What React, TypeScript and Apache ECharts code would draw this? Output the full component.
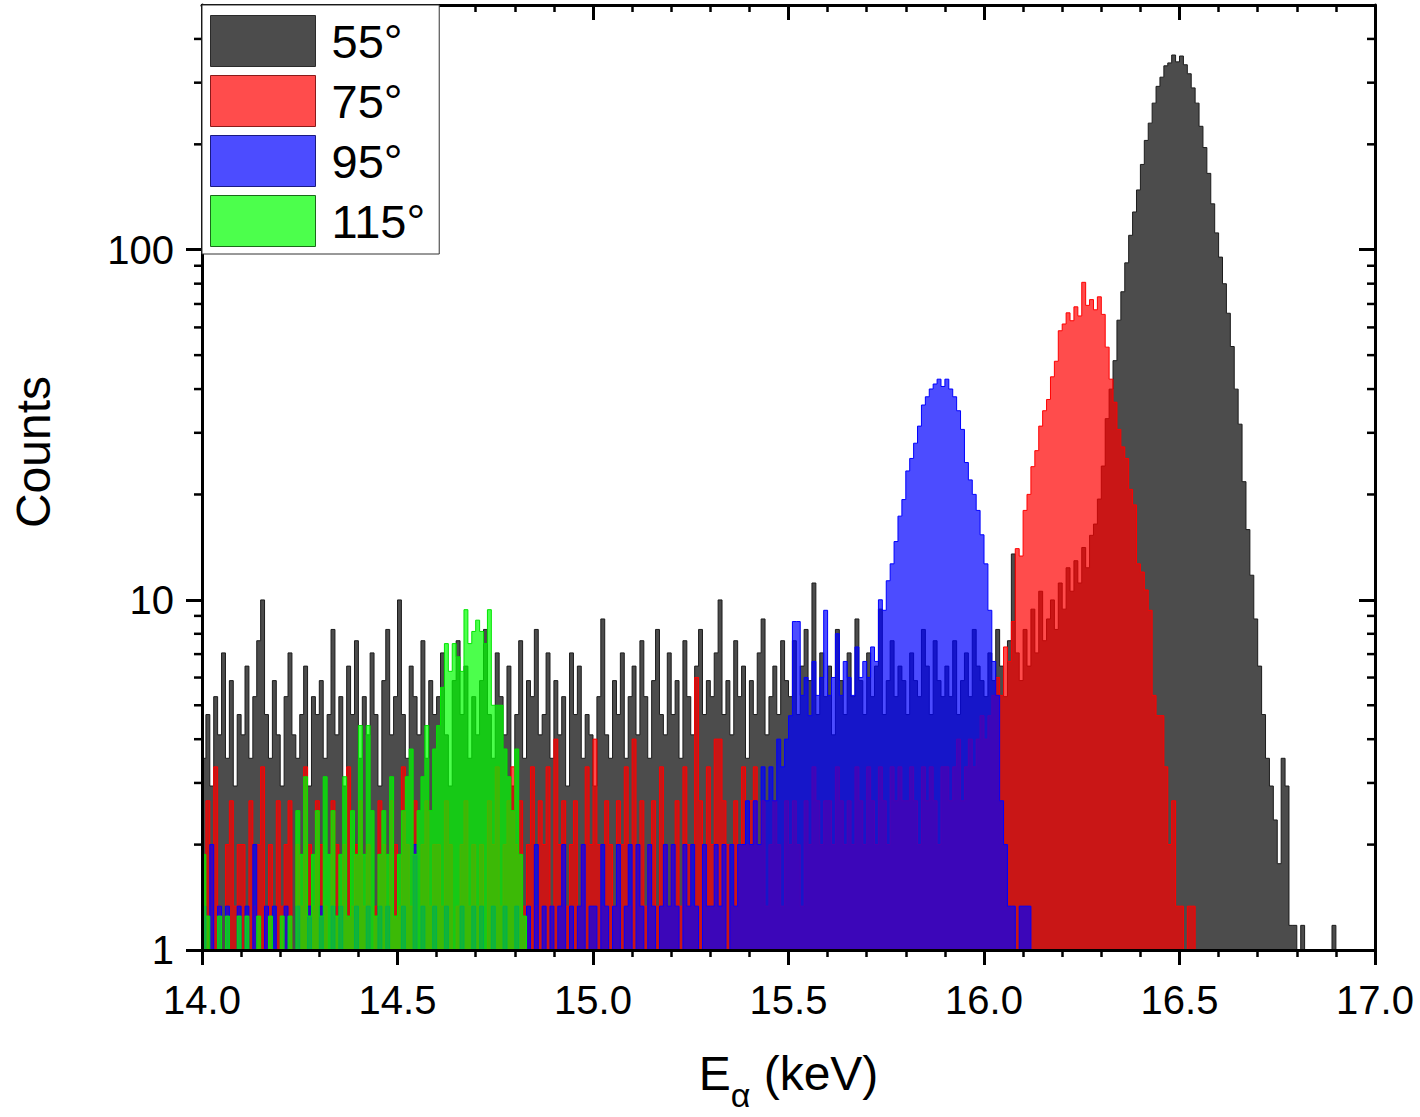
import React, { useEffect, useRef } from "react";
import * as echarts from "echarts";

// ---------- data ----------
// histogram bins start at 14.00 keV, bin width 0.01 keV
const BIN_START = 14.0;
const BIN_WIDTH = 0.01;

// raw counts per bin, 55° detector (14.00 .. 16.89 keV)
const COUNTS_55 = [
  6, 8, 5, 9, 7, 12, 6, 10, 5, 8,
  7, 11, 6, 9, 13, 17, 8, 6, 10, 7,
  5, 9, 12, 7, 6, 8, 11, 5, 9, 8,
  10, 6, 8, 14, 7, 9, 5, 11, 8, 13,
  6, 9, 7, 12, 8, 5, 10, 14, 7, 9,
  17, 8, 6, 11, 9, 7, 13, 6, 10, 8,
  9, 12, 7, 5, 10, 13, 8, 11, 6, 9,
  7, 10, 14, 8, 6, 12, 9, 7, 11, 5,
  8, 13, 6, 10, 9, 14, 7, 8, 12, 6,
  10, 7, 9, 5, 12, 8, 11, 6, 8, 7,
  5, 9, 15, 7, 6, 10, 8, 12, 6, 9,
  11, 7, 13, 9, 6, 10, 14, 8, 7, 12,
  8, 10, 6, 13, 9, 7, 11, 14, 8, 10,
  9, 12, 17, 8, 10, 7, 13, 9, 11, 6,
  10, 8, 12, 15, 7, 9, 11, 8, 13, 10,
  9, 13, 8, 11, 14, 10, 19, 8, 12, 9,
  11, 7, 14, 10, 8, 12, 9, 15, 10, 8,
  12, 9, 11, 16, 8, 10, 13, 9, 11, 10,
  8, 12, 10, 9, 14, 11, 8, 13, 10, 9,
  11, 9, 13, 8, 10, 12, 9, 14, 11, 10,
  9, 12, 10, 14, 11, 9, 13, 23, 12, 10,
  14, 11, 16, 12, 18, 13, 15, 17, 14, 19,
  16, 21, 18, 22, 19, 24, 21, 26, 28, 33,
  41, 56, 68, 82, 107, 129, 156, 187, 218, 252,
  298, 349, 391, 446, 498, 529, 570, 581, 612, 585,
  608, 574, 541, 493, 446, 383, 333, 281, 230, 190,
  162, 136, 112, 90, 68, 54, 37, 27, 20, 15,
  11, 8, 6, 5, 4, 3, 6, 5, 2, 2,
  1, 2, 1, 1, 1, 1, 1, 1, 1, 2,
];

// 75° detector (14.00 .. 16.53 keV)
const COUNTS_75 = [
  2, 4, 3, 5, 2, 1, 3, 4, 2, 3,
  3, 1, 4, 2, 3, 5, 2, 3, 1, 4,
  2, 3, 4, 1, 3, 2, 5, 3, 2, 4,
  3, 2, 1, 4, 3, 2, 3, 5, 2, 3,
  4, 2, 3, 1, 2, 4, 3, 2, 4, 3,
  2, 5, 3, 2, 4, 1, 3, 4, 2, 3,
  3, 2, 4, 3, 1, 2, 3, 4, 2, 3,
  2, 3, 1, 4, 3, 5, 2, 3, 4, 5,
  3, 4, 2, 3, 5, 2, 4, 3, 5, 2,
  6, 3, 4, 2, 3, 4, 2, 3, 5, 3,
  6, 3, 2, 4, 3, 2, 4, 3, 5, 2,
  6, 3, 4, 2, 3, 4, 2, 5, 3, 2,
  3, 4, 2, 5, 3, 2, 9, 4, 3, 5,
  3, 6, 6, 4, 3, 2, 4, 3, 5, 3,
  4, 5, 3, 4, 2, 3, 4, 3, 2, 4,
  3, 4, 3, 2, 4, 3, 5, 4, 3, 4,
  4, 3, 5, 4, 3, 4, 3, 5, 4, 3,
  5, 4, 3, 5, 4, 3, 5, 4, 5, 4,
  4, 5, 4, 3, 5, 4, 5, 4, 3, 5,
  5, 4, 5, 6, 4, 5, 6, 5, 6, 7,
  6, 7, 8, 9, 8, 11, 10, 13, 21, 20,
  27, 30, 36, 40, 47, 52, 56, 65, 72, 88,
  92, 99, 94, 103, 97, 121, 104, 108, 101, 110,
  98, 79, 64, 55, 46, 41, 38, 31, 28, 19,
  18, 16, 14, 8, 7, 7, 5, 3, 4, 2,
  2, 1, 2, 2,
];

// 95° detector (14.00 .. 16.12 keV)
const COUNTS_95 = [
  2, 1, 3, 1, 2, 1, 2, 1, 1, 2,
  1, 2, 1, 3, 1, 1, 2, 1, 2, 1,
  1, 2, 1, 1, 2, 1, 1, 2, 1, 1,
  2, 1, 1, 2, 1, 2, 1, 1, 1, 2,
  1, 1, 2, 1, 1, 2, 1, 2, 1, 1,
  1, 2, 1, 1, 3, 1, 2, 1, 1, 2,
  1, 1, 2, 1, 1, 1, 2, 1, 1, 2,
  1, 2, 1, 1, 2, 1, 1, 2, 1, 1,
  2, 1, 1, 2, 1, 3, 1, 2, 1, 2,
  1, 2, 3, 1, 2, 1, 2, 3, 1, 2,
  2, 1, 3, 2, 1, 2, 3, 1, 2, 3,
  1, 3, 2, 1, 3, 2, 1, 2, 3, 2,
  3, 2, 1, 3, 2, 3, 2, 1, 3, 2,
  2, 3, 2, 3, 1, 3, 2, 3, 3, 4,
  3, 4, 3, 5, 4, 5, 4, 6, 5, 6,
  7, 13, 13, 8, 9, 7, 10, 8, 9, 14,
  8, 9, 12, 8, 10, 9, 8, 11, 9, 10,
  9, 11, 10, 15, 14, 17, 19, 22, 26, 29,
  35, 38, 42, 47, 54, 57, 60, 62, 64, 61,
  64, 60, 57, 52, 46, 37, 33, 30, 27, 23,
  19, 14, 10, 8, 4, 3, 2, 2, 1, 2,
  2, 2, 1,
];

// 115° detector (14.00 .. 14.83 keV)
const COUNTS_115 = [
  3, 2, 1, 1, 2, 1, 2, 1, 1, 2,
  1, 2, 1, 1, 2, 1, 1, 2, 1, 1,
  2, 1, 2, 1, 4, 3, 5, 2, 3, 4,
  2, 5, 3, 4, 2, 3, 5, 2, 4, 3,
  7, 3, 7, 4, 2, 3, 4, 3, 5, 2,
  3, 4, 5, 6, 3, 4, 5, 7, 4, 6,
  7, 9, 12, 10, 12, 11, 10, 15, 12, 13,
  14, 13, 12, 15, 8, 8, 8, 6, 5, 4,
  6, 3, 2, 1,
];

// normalisation factor applied to each detector's counts
const SCALE_55 = 0.588;
const SCALE_75 = 0.667;
const SCALE_95 = 0.667;
const SCALE_115 = 0.625;

const SERIES_NAMES = ["55°", "75°", "95°", "115°"];

// axes
const X_MIN = 14;
const X_MAX = 17;
const X_INTERVAL = 0.5;
const Y_MIN = 1;
const Y_MAX = 500;
const Y_MAJOR_TICKS = [1, 10, 100];
const Y_MINOR_TICKS = [2, 3, 4, 5, 6, 7, 8, 9, 20, 30, 40, 50, 60, 70, 80, 90, 200, 300, 400];

// ---------- styling ----------
const FONT = '"Liberation Sans", Arial, Helvetica, sans-serif';
const FILLS = ["rgba(0,0,0,0.7)", "rgba(255,0,0,0.7)", "rgba(0,0,255,0.7)", "rgba(0,255,0,0.7)"];
const LINES = ["#1c1c1c", "#ff0000", "#0000ff", "#00e600"];
const LEGEND_BORDERS = ["#2a2a2a", "#8a1a1a", "#1a1a80", "#1a6a1a"];
const HIDDEN_FLOOR = 0.3; // below the axis minimum: an empty bin

function toSteps(counts: number[], scale: number): number[][] {
  const pts = counts.map((c, i) => [
    Number((BIN_START + i * BIN_WIDTH).toFixed(4)),
    c > 0 ? c * scale : HIDDEN_FLOOR,
  ]);
  pts.push([Number((BIN_START + counts.length * BIN_WIDTH).toFixed(4)), HIDDEN_FLOOR]);
  return pts;
}

const isDecade = (v: number) => Y_MAJOR_TICKS.some((t) => Math.abs(t - v) < 1e-6);

function buildOption(): any {
  const datasets = [
    toSteps(COUNTS_55, SCALE_55),
    toSteps(COUNTS_75, SCALE_75),
    toSteps(COUNTS_95, SCALE_95),
    toSteps(COUNTS_115, SCALE_115),
  ];

  const histSeries = datasets.map((d, k) => ({
    type: "line",
    name: SERIES_NAMES[k],
    data: d,
    step: "end",
    symbol: "none",
    showSymbol: false,
    silent: true,
    z: 2 + k,
    lineStyle: { color: LINES[k], width: 1 },
    itemStyle: { color: LINES[k] },
    areaStyle: { color: FILLS[k], opacity: 1, origin: "start" },
    emphasis: { disabled: true },
  }));

  const axisLineStyle = { color: "#000", width: 3 };

  return {
    animation: false,
    backgroundColor: "#ffffff",
    grid: { left: 202, top: 5, right: 45, bottom: 167, containLabel: false, outerBoundsMode: "none" },
    legend: {
      left: 202,
      top: 5,
      orient: "vertical",
      padding: [10, 14, 7, 8],
      itemWidth: 105,
      itemHeight: 51,
      itemGap: 8,
      selectedMode: false,
      backgroundColor: "#ffffff",
      borderColor: "#333",
      borderWidth: 1,
      borderRadius: 0,
      textStyle: { fontSize: 47, fontFamily: FONT, color: "#000", padding: [0, 0, 0, 11] },
      data: SERIES_NAMES.map((n, k) => ({
        name: n,
        icon: "rect",
        itemStyle: { color: FILLS[k], borderColor: LEGEND_BORDERS[k], borderWidth: 1 },
      })),
      z: 20,
    },
    xAxis: [
      {
        type: "value",
        position: "bottom",
        min: X_MIN,
        max: X_MAX,
        interval: X_INTERVAL,
        z: 10,
        axisLine: { show: true, onZero: false, lineStyle: axisLineStyle },
        axisTick: { show: true, inside: false, length: 15, lineStyle: { color: "#000", width: 3 } },
        minorTick: { show: true, splitNumber: 5, length: 7, lineStyle: { color: "#000", width: 2.5 } },
        splitLine: { show: false },
        minorSplitLine: { show: false },
        axisLabel: {
          show: true,
          margin: 30,
          fontSize: 40,
          fontFamily: FONT,
          color: "#000",
          formatter: (v: number) => v.toFixed(1),
        },
        name: "{e|E}{s|α}{e| (keV)}",
        nameLocation: "middle",
        nameGap: 84,
        nameTextStyle: {
          color: "#000",
          fontFamily: FONT,
          fontSize: 48,
          rich: {
            e: { fontSize: 48, fontFamily: FONT, color: "#000" },
            s: { fontSize: 34, fontFamily: FONT, color: "#000", padding: [44, 0, 0, 0] },
          },
        },
      },
      {
        type: "value",
        position: "top",
        min: X_MIN,
        max: X_MAX,
        interval: X_INTERVAL,
        z: 10,
        axisLine: { show: true, onZero: false, lineStyle: axisLineStyle },
        axisTick: { show: true, inside: true, length: 15, lineStyle: { color: "#000", width: 3 } },
        minorTick: { show: true, splitNumber: 5, length: 7, lineStyle: { color: "#000", width: 2.5 } },
        splitLine: { show: false },
        minorSplitLine: { show: false },
        axisLabel: { show: false },
      },
    ],
    yAxis: [
      {
        type: "log",
        logBase: 10,
        position: "left",
        min: Y_MIN,
        max: Y_MAX,
        z: 10,
        axisLine: { show: true, onZero: false, lineStyle: axisLineStyle },
        axisTick: {
          show: true,
          inside: false,
          length: 16,
          customValues: Y_MAJOR_TICKS,
          lineStyle: { color: "#000", width: 3 },
        },
        splitLine: { show: false },
        axisLabel: {
          show: true,
          margin: 28,
          fontSize: 40,
          fontFamily: FONT,
          color: "#000",
          customValues: Y_MAJOR_TICKS,
          formatter: (v: number) => (isDecade(v) ? String(Math.round(v)) : ""),
        },
      },
      {
        type: "log",
        logBase: 10,
        position: "right",
        min: Y_MIN,
        max: Y_MAX,
        z: 10,
        axisLine: { show: true, onZero: false, lineStyle: axisLineStyle },
        axisTick: {
          show: true,
          inside: true,
          length: 16,
          customValues: Y_MAJOR_TICKS,
          lineStyle: { color: "#000", width: 3 },
        },
        splitLine: { show: false },
        axisLabel: { show: false },
      },
    ],
    graphic: [
      {
        type: "text",
        x: 33,
        y: 452,
        rotation: Math.PI / 2,
        z: 20,
        style: {
          text: "Counts",
          fontSize: 48,
          fontFamily: FONT,
          fill: "#000",
          align: "center",
          verticalAlign: "middle",
        },
      },
    ],
    series: [
      ...histSeries,
      {
        type: "custom",
        name: "minor-y-ticks",
        coordinateSystem: "cartesian2d",
        xAxisIndex: 0,
        yAxisIndex: 0,
        silent: true,
        clip: false,
        z: 12,
        data: Y_MINOR_TICKS.map((v) => [X_MIN, v]),
        renderItem: (params: any, api: any) => {
          const v = api.value(1);
          const pl = api.coord([X_MIN, v]);
          const pr = api.coord([X_MAX, v]);
          const st = { stroke: "#000", lineWidth: 2.5 };
          return {
            type: "group",
            children: [
              { type: "line", shape: { x1: pl[0] - 8, y1: pl[1], x2: pl[0], y2: pl[1] }, style: st },
              { type: "line", shape: { x1: pr[0] - 8, y1: pr[1], x2: pr[0], y2: pr[1] }, style: st },
            ],
          };
        },
      },
    ],
  };
}

export default function App() {
  const ref = useRef<HTMLDivElement>(null);
  useEffect(() => {
    if (!ref.current) return;
    const chart = echarts.init(ref.current, null, { renderer: "svg" });
    chart.setOption(buildOption());
    return () => {
      chart.dispose();
    };
  }, []);
  return (
    <div
      ref={ref}
      style={{ position: "absolute", left: 0, top: 0, width: 1420, height: 1117, background: "#fff" }}
    />
  );
}
